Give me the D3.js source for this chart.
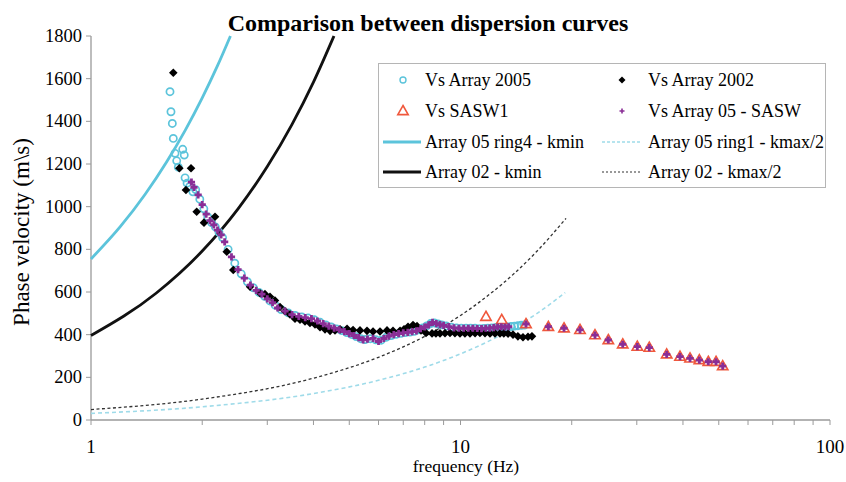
<!DOCTYPE html>
<html><head><meta charset="utf-8">
<script src="https://cdn.jsdelivr.net/npm/d3@7/dist/d3.min.js"></script>
<style>body{margin:0;background:#fff}svg{display:block}</style>
</head><body><svg id="c" width="846" height="482"></svg>
<script>
const chartTitle = "Comparison between dispersion curves";
const xLabel = "frequency (Hz)";
const yLabel = "Phase velocity (m\\s)";
const xTicks = [1, 10, 100];
const xMinorTicks = [2,3,4,5,6,7,8,9,20,30,40,50,60,70,80,90];
const yTicks = [0,200,400,600,800,1000,1200,1400,1600,1800];

// Vs Array 2005 (cyan circles) [frequency Hz, velocity m/s]
const vsArray2005 = [[1.636,1539],[1.646,1445],[1.660,1390],[1.670,1320],[1.688,1250],[1.706,1215],[1.723,1185],[1.771,1269],[1.788,1242],[1.797,1135],[1.82,1110],[1.85,1095],[1.887,1070],[1.92,1080],[1.97,1035],[2.02,990],[2.07,952],[2.12,925],[2.17,905],[2.22,880],[2.27,855],[2.35,800],[2.45,735],[2.55,685],[2.65,648],[2.75,620],[2.85,598],[2.95,580],[3.05,558],[3.15,538],[3.27,518],[3.42,502],[3.57,490],[3.72,483],[3.87,478],[4.02,470],[4.17,458],[4.32,446],[4.47,436],[4.62,427],[4.77,419],[4.92,410],[5.07,401],[5.22,391],[5.37,381],[5.52,377],[5.7,381],[5.9,376],[6.1,374],[6.3,388],[6.5,396],[6.7,402],[6.9,406],[7.1,410],[7.3,412],[7.5,416],[7.7,423],[7.9,432],[8.1,441],[8.3,452],[8.5,455],[8.7,450],[8.9,446],[9.15,441],[9.45,435],[9.75,431],[10.05,430],[10.35,430],[10.65,430],[10.95,430],[11.25,428],[11.55,429],[11.85,430],[12.15,432],[12.45,434],[12.75,436],[13.05,437],[13.35,437],[13.7,438],[14.0,440],[14.3,442],[14.6,444],[14.9,445]];

// Vs Array 2002 (black diamonds)
const vsArray2002 = [[1.670,1628],[1.734,1180],[1.865,1180],[1.807,1078],[1.932,976],[2.022,925],[2.166,953],[2.330,789],[2.427,703],[2.694,625],[2.867,594],[2.957,590],[3.051,578],[3.147,560],[3.247,530],[3.350,510],[3.456,495],[3.565,475],[3.678,470],[3.795,462],[3.914,455],[4.039,448],[4.167,435],[4.299,425],[4.436,418],[4.575,420],[4.721,425],[4.931,428],[5.119,422],[5.346,420],[5.585,418],[5.798,415],[6.056,415],[6.326,420],[6.566,418],[6.861,418],[7.034,425],[7.211,437],[7.439,445],[7.627,440],[7.819,420],[8.067,408],[8.374,406],[8.58,406],[8.801,406],[9.08,407],[9.367,408],[9.66,407],[9.968,406],[10.28,406],[10.61,406],[10.95,407],[11.29,408],[11.65,407],[12.02,406],[12.4,406],[12.79,406],[13.1,406],[13.45,405],[13.87,400],[14.30,392],[14.76,388],[15.23,390],[15.61,392]];

// Vs SASW1 (red triangles)
const vsSASW1 = [[11.72,484],[12.93,469],[15.04,450],[17.29,437],[19.06,430],[21.06,422],[23.12,398],[25.12,375],[27.48,355],[30.10,344],[32.43,339],[36.14,308],[39.27,297],[41.80,289],[44.30,281],[46.84,273],[49.15,273],[51.24,253]];

// Vs Array 05 - SASW (purple crosses)
const vsArray05SASW = [[1.87,1115],[1.9,1090],[1.95,1055],[2.0,1010],[2.05,965],[2.1,935],[2.15,915],[2.2,890],[2.25,868],[2.3,835],[2.4,765],[2.5,705],[2.6,665],[2.7,632],[2.8,608],[2.9,590],[3.0,568],[3.1,550],[3.2,525],[3.35,510],[3.5,494],[3.65,486],[3.8,480],[3.95,475],[4.1,464],[4.25,452],[4.4,440],[4.55,431],[4.7,423],[4.85,414],[5.0,405],[5.15,396],[5.3,386],[5.45,376],[5.6,379],[5.8,383],[6.0,368],[6.2,382],[6.4,393],[6.6,400],[6.8,405],[7.0,408],[7.2,411],[7.4,414],[7.6,418],[7.8,428],[8.0,436],[8.2,446],[8.4,458],[8.6,452],[8.8,447],[9.0,444],[9.3,438],[9.6,432],[9.9,430],[10.2,430],[10.5,430],[10.8,430],[11.1,429],[11.4,428],[11.7,430],[12.0,431],[12.3,433],[12.6,436],[12.9,437],[13.2,436],[13.5,437],[15.04,450],[17.29,437],[19.06,430],[21.06,422],[23.12,398],[25.12,375],[27.48,355],[30.10,344],[32.43,339],[36.14,308],[39.27,297],[41.80,289],[44.30,281],[46.84,273],[49.15,273],[51.24,253]];

// limit curves
const ring4Kmin = [[1,755],[1.2,906],[1.4,1057],[1.6,1208],[1.8,1359],[2.0,1510],[2.2,1661],[2.384,1800]];
const array02Kmin = [[1,396],[1.5,594],[2,792],[2.5,990],[3,1188],[3.5,1386],[4,1584],[4.545,1800]];
const ring1Kmax2 = [[1,31],[2,62],[4,124],[6,186],[8,248],[10,310],[12,372],[14,434],[16,496],[19.2,597]];
const array02Kmax2 = [[1,49],[2,98],[4,196],[6,294],[8,392],[10,490],[12,590],[14,688],[16,786],[19.3,945]];

const legendItems = [
  {label:"Vs Array 2005", kind:"circle", col:0, row:0},
  {label:"Vs Array 2002", kind:"diamond", col:1, row:0},
  {label:"Vs SASW1", kind:"triangle", col:0, row:1},
  {label:"Vs Array 05 - SASW", kind:"cross", col:1, row:1},
  {label:"Array 05 ring4 - kmin", kind:"ring4", col:0, row:2},
  {label:"Array 05 ring1 - kmax/2", kind:"ring1", col:1, row:2},
  {label:"Array 02 - kmin", kind:"a02", col:0, row:3},
  {label:"Array 02 - kmax/2", kind:"a02h", col:1, row:3}
];

const CYAN = "#5cc4db", CYAN_L = "#9fdbe9", RED = "#f0583c", PURPLE = "#8a2e96";
const FONT = "'Liberation Serif','Times New Roman',serif";
const svg = d3.select("#c");
const L = 91, R = 830, T = 36, B = 420;
const x = d3.scaleLog().domain([1,100]).range([L,R]);
const y = d3.scaleLinear().domain([0,1800]).range([B,T]);

svg.append("text").attr("x",428).attr("y",31).attr("text-anchor","middle")
  .attr("font-family",FONT).attr("font-weight","bold").attr("font-size",24).text(chartTitle);

// axes
const gx = svg.append("g").attr("transform",`translate(0,${B})`);
gx.append("line").attr("x1",L).attr("x2",R).attr("stroke","#9a9a9a").attr("stroke-width",1.3);
gx.selectAll("line.t").data(xTicks.concat(xMinorTicks)).join("line").attr("class","t")
  .attr("x1",d=>x(d)).attr("x2",d=>x(d)).attr("y1",0).attr("y2",5).attr("stroke","#9a9a9a");
gx.selectAll("text").data(xTicks).join("text").attr("x",d=>x(d)).attr("y",33)
  .attr("text-anchor","middle").attr("font-family",FONT).attr("font-size",19).text(d=>d);
const gy = svg.append("g");
gy.append("line").attr("x1",L).attr("x2",L).attr("y1",T).attr("y2",B).attr("stroke","#9a9a9a").attr("stroke-width",1.3);
gy.selectAll("line.t").data(yTicks).join("line").attr("class","t")
  .attr("x1",L-5).attr("x2",L).attr("y1",d=>y(d)).attr("y2",d=>y(d)).attr("stroke","#9a9a9a");
gy.selectAll("text").data(yTicks).join("text").attr("x",82).attr("y",d=>y(d)+6)
  .attr("text-anchor","end").attr("font-family",FONT).attr("font-size",18.5).text(d=>d);
svg.append("text").attr("transform","translate(29,232) rotate(-90)").attr("text-anchor","middle")
  .attr("font-family",FONT).attr("font-size",23).text(yLabel);
svg.append("text").attr("x",466).attr("y",472).attr("text-anchor","middle")
  .attr("font-family",FONT).attr("font-size",17.5).text(xLabel);

const plot = svg.append("g");
const line = d3.line().x(d=>x(d[0])).y(d=>y(d[1])).curve(d3.curveMonotoneX);
plot.append("path").attr("d",line(array02Kmax2)).attr("fill","none").attr("stroke","#333").attr("stroke-width",1.3).attr("stroke-dasharray","3,2.5");
plot.append("path").attr("d",line(ring1Kmax2)).attr("fill","none").attr("stroke",CYAN_L).attr("stroke-width",1.6).attr("stroke-dasharray","4,3");
plot.append("path").attr("d",line(ring4Kmin)).attr("fill","none").attr("stroke",CYAN).attr("stroke-width",2.8);
plot.append("path").attr("d",line(array02Kmin)).attr("fill","none").attr("stroke","#111").attr("stroke-width",2.8);

const diamond = "M0,-4.3L4.3,0L0,4.3L-4.3,0Z";
const tri = "M0,-5.5L5.2,3.6L-5.2,3.6Z";
const cross = "M-3.6,0H3.6M0,-3.6V3.6";

plot.selectAll("circle.a5").data(vsArray2005).join("circle").attr("class","a5")
  .attr("cx",d=>x(d[0])).attr("cy",d=>y(d[1])).attr("r",3.6).attr("fill","none").attr("stroke",CYAN).attr("stroke-width",1.7);
plot.selectAll("path.a2").data(vsArray2002).join("path").attr("class","a2")
  .attr("transform",d=>`translate(${x(d[0])},${y(d[1])})`).attr("d",diamond).attr("fill","#000");
plot.selectAll("path.s1").data(vsSASW1).join("path").attr("class","s1")
  .attr("transform",d=>`translate(${x(d[0])},${y(d[1])})`).attr("d",tri).attr("fill","#fff").attr("stroke",RED).attr("stroke-width",1.6);
plot.selectAll("path.cs").data(vsArray05SASW).join("path").attr("class","cs")
  .attr("transform",d=>`translate(${x(d[0])},${y(d[1])})`).attr("d",cross).attr("stroke",PURPLE).attr("stroke-width",2.8);

// legend
const lg = svg.append("g");
lg.append("rect").attr("x",378.5).attr("y",63.5).attr("width",447).attr("height",124)
  .attr("fill","#fff").attr("stroke","#b5b5b5");
const rowY = [80,111,142,172], colX = [383,602], txtX = [425,648];
legendItems.forEach(it=>{
  const cy = rowY[it.row], x0 = colX[it.col], cx = x0+20;
  const g = lg.append("g");
  if(it.kind==="circle") g.append("circle").attr("cx",cx).attr("cy",cy).attr("r",3).attr("fill","none").attr("stroke",CYAN).attr("stroke-width",1.4);
  if(it.kind==="diamond") g.append("path").attr("transform",`translate(${cx},${cy})`).attr("d","M0,-3.5L3.5,0L0,3.5L-3.5,0Z").attr("fill","#000");
  if(it.kind==="triangle") g.append("path").attr("transform",`translate(${cx},${cy})`).attr("d",tri).attr("fill","#fff").attr("stroke",RED).attr("stroke-width",1.6);
  if(it.kind==="cross") g.append("path").attr("transform",`translate(${cx},${cy})`).attr("d","M-2.5,0H2.5M0,-2.5V2.5").attr("stroke",PURPLE).attr("stroke-width",1.6);
  if(it.kind==="ring4") g.append("line").attr("x1",x0).attr("x2",x0+38).attr("y1",cy).attr("y2",cy).attr("stroke",CYAN).attr("stroke-width",2.8);
  if(it.kind==="a02") g.append("line").attr("x1",x0).attr("x2",x0+38).attr("y1",cy).attr("y2",cy).attr("stroke","#111").attr("stroke-width",2.8);
  if(it.kind==="ring1") g.append("line").attr("x1",x0).attr("x2",x0+38).attr("y1",cy).attr("y2",cy).attr("stroke",CYAN_L).attr("stroke-width",1.5).attr("stroke-dasharray","3,2");
  if(it.kind==="a02h") g.append("line").attr("x1",x0).attr("x2",x0+38).attr("y1",cy).attr("y2",cy).attr("stroke","#333").attr("stroke-width",1.2).attr("stroke-dasharray","2,2");
  g.append("text").attr("x",txtX[it.col]).attr("y",cy+6).attr("font-family",FONT).attr("font-size",18).text(it.label);
});
</script></body></html>
